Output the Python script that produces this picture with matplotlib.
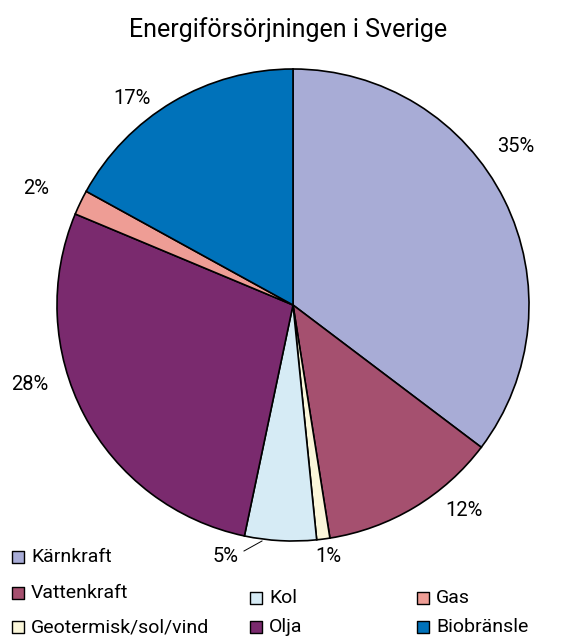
import matplotlib
matplotlib.use("Agg")
import matplotlib.pyplot as plt
import numpy as np

title = "Energiförsörjningen i Sverige"
sources = ["Kärnkraft", "Vattenkraft", "Geotermisk/sol/vind", "Kol", "Olja", "Gas", "Biobränsle"]
shares = [35.3, 12.2, 0.9, 4.9, 28.0, 1.7, 17.0]
share_labels = ["35%", "12%", "1%", "5%", "28%", "2%", "17%"]
colors = ["#A8ACD6", "#A5506F", "#FBF7DA", "#D6EBF5", "#7A2A6E", "#EE9D95", "#0072BA"]

W, H = 577, 637
cx, cy, R = 293, 305, 236

plt.rcParams['font.family'] = ['Roboto', 'DejaVu Sans']

fig = plt.figure(figsize=(W / 100, H / 100), dpi=100)
ax = fig.add_axes([0, 0, 1, 1])

wedges, _ = ax.pie(shares, colors=colors, startangle=90, counterclock=False,
                   radius=1.0, wedgeprops=dict(edgecolor="black", linewidth=1.2))

ax.set_aspect("auto")
ax.set_xlim(-cx / R, (W - cx) / R)
ax.set_ylim((cy - H) / R, cy / R)
ax.axis("off")


def px(x, y):
    return (x - cx) / R, (cy - y) / R


# label positions (pixels)
label_pos = [(516, 146), (464, 510), (328, 556), (226, 556), (30, 384), (36, 189), (132, 98)]
for (x, y), t in zip(label_pos, share_labels):
    ax.text(*px(x, y), t, ha="center", va="center", fontsize=14.5)

# leader line for the 5% label
ax.plot(*zip(px(244, 551), px(262, 541)), color="black", lw=0.7)

ax.text(*px(288, 30), title, ha="center", va="center", fontsize=18)

# legend
leg_pos = [(18, 557), (18, 593), (18, 627), (256, 598), (256, 627), (423, 598), (423, 627)]
for (x, y), name, c in zip(leg_pos, sources, colors):
    ax.scatter(*px(x, y), s=70, marker="s", color=c, edgecolor="black", linewidth=1.0,
               zorder=5, clip_on=False)
    ax.text(*px(x + 13, y), name, ha="left", va="center", fontsize=14)

fig.savefig("out.png", dpi=100)
